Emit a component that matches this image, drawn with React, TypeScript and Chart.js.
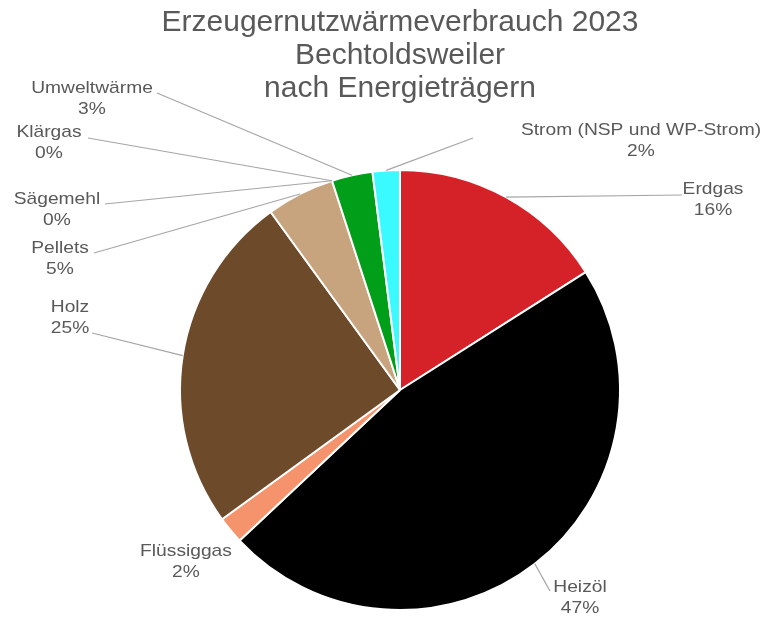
import React, { useEffect, useRef } from "react";
import { Chart, registerables } from "chart.js";

Chart.register(...registerables);

const titleLines = ["Erzeugernutzwärmeverbrauch 2023", "Bechtoldsweiler", "nach Energieträgern"];
const categories = [
  "Erdgas",
  "Heizöl",
  "Flüssiggas",
  "Holz",
  "Pellets",
  "Sägemehl",
  "Klärgas",
  "Umweltwärme",
  "Strom (NSP und WP-Strom)",
];
const values = [16, 47, 2, 25, 5, 0, 0, 3, 2];
const colors = ["#D52229", "#000000", "#F5936C", "#6C4A2A", "#C8A47E", "#A5A5A5", "#7F7F7F", "#009E19", "#3BFAFF"];

// label layout: text center x, first line center y, leader attach point (null = no leader)
const labelLayout = [
  { x: 713, y: 189, ax: 682, ay: 195 },
  { x: 580, y: 587, ax: 550, ay: 591 },
  { x: 186, y: 551, ax: null, ay: null },
  { x: 70, y: 307, ax: 92, ay: 333 },
  { x: 60, y: 248, ax: 94, ay: 253 },
  { x: 57, y: 199, ax: 105, ay: 204 },
  { x: 49, y: 132, ax: 88, ay: 138 },
  { x: 92, y: 88, ax: 157, ay: 93 },
  { x: 641, y: 130, ax: 473, ay: 138 },
];

const TEXT_COLOR = "#595959";
const LINE_COLOR = "#A6A6A6";
const FONT = '"Liberation Sans", Arial, sans-serif';

function stretchText(ctx: CanvasRenderingContext2D, text: string, x: number, y: number, sx: number) {
  ctx.save();
  ctx.translate(x, y);
  ctx.scale(sx, 1);
  ctx.fillText(text, 0, 0);
  ctx.restore();
}

const labelPlugin = {
  id: "pieLabels",
  afterDraw(chart: any) {
    const ctx = chart.ctx as CanvasRenderingContext2D;
    const meta = chart.getDatasetMeta(0);
    const data = chart.data.datasets[0].data as number[];
    const total = data.reduce((a, b) => a + b, 0);
    ctx.save();
    // title
    ctx.fillStyle = TEXT_COLOR;
    ctx.textAlign = "center";
    ctx.textBaseline = "middle";
    ctx.font = `30px ${FONT}`;
    titleLines.forEach((t, i) => stretchText(ctx, t, 400, 22.5 + i * 33.2, 1));
    // labels
    meta.data.forEach((arc: any, i: number) => {
      const lay = labelLayout[i];
      const mid = (arc.startAngle + arc.endAngle) / 2;
      const px = arc.x + Math.cos(mid) * arc.outerRadius;
      const py = arc.y + Math.sin(mid) * arc.outerRadius;
      if (lay.ax !== null) {
        ctx.strokeStyle = LINE_COLOR;
        ctx.lineWidth = 1.2;
        ctx.beginPath();
        ctx.moveTo(lay.ax, lay.ay as number);
        ctx.lineTo(px, py);
        ctx.stroke();
      }
      ctx.fillStyle = TEXT_COLOR;
      ctx.font = `17px ${FONT}`;
      stretchText(ctx, String(chart.data.labels[i]), lay.x, lay.y, 1.13);
      stretchText(ctx, `${Math.round((data[i] / total) * 100)}%`, lay.x, lay.y + 21.5, 1.13);
    });
    ctx.restore();
  },
};

export default function App() {
  const ref = useRef<HTMLCanvasElement>(null);
  useEffect(() => {
    document.body.style.margin = "0";
    const chart = new Chart(ref.current!, {
      type: "pie",
      data: {
        labels: categories,
        datasets: [
          {
            data: values,
            backgroundColor: colors,
            borderColor: "#FFFFFF",
            borderWidth: 2,
          },
        ],
      },
      options: {
        animation: false,
        responsive: true,
        maintainAspectRatio: false,
        layout: { padding: { top: 169, bottom: 6, left: 99, right: 66 } },
        plugins: {
          legend: { display: false },
          tooltip: { enabled: false },
          title: { display: false },
        },
      },
      plugins: [labelPlugin],
    });
    return () => chart.destroy();
  }, []);
  return (
    <div style={{ position: "absolute", left: 0, top: 0, width: 767, height: 617, background: "#fff" }}>
      <canvas ref={ref} />
    </div>
  );
}
